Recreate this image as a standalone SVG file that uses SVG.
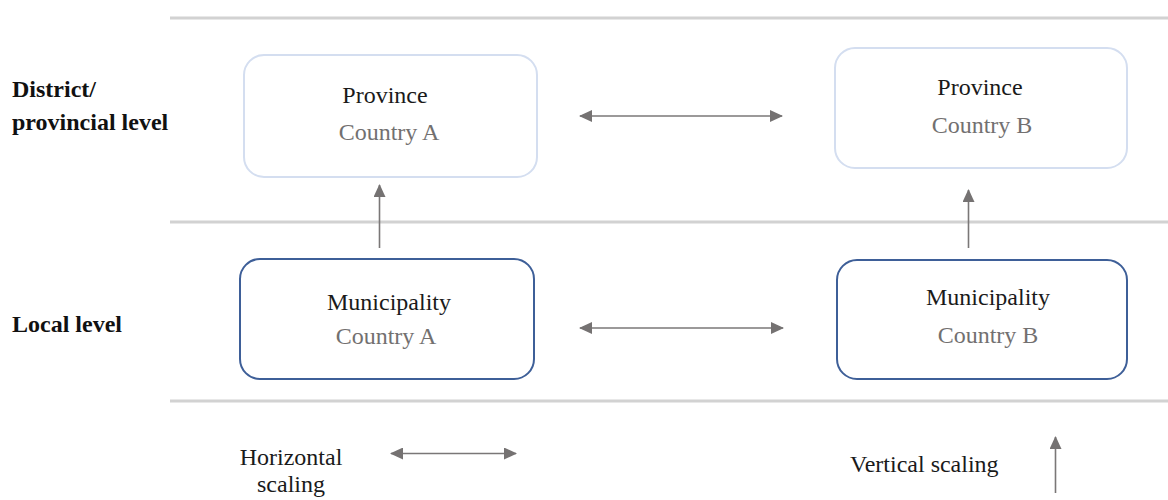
<svg xmlns="http://www.w3.org/2000/svg" width="1168" height="500" viewBox="0 0 1168 500">
  <style>
    text { font-family: 'Liberation Serif', 'DejaVu Serif', serif; font-size: 24px; }
    .band { stroke: #d2d2d2; stroke-width: 3; }
    .lvl { font-weight: bold; fill: #111; }
    .title { fill: #1a1a1a; text-anchor: middle; }
    .sub { fill: #727070; text-anchor: middle; }
    .note { fill: #1a1a1a; }
    .prov { fill: #fff; stroke: #d4def0; stroke-width: 2; }
    .muni { fill: #fff; stroke: #3e5f98; stroke-width: 2; }
    .conn { stroke: #7a7777; stroke-width: 1.6; fill: none; }
  </style>
  <defs>
    <marker id="head" viewBox="0 0 13 12" refX="12" refY="6" markerWidth="13" markerHeight="12" markerUnits="userSpaceOnUse" orient="auto-start-reverse">
      <path d="M0,0 L13,6 L0,12 Z" fill="#757272"/>
    </marker>
  </defs>

  <rect width="1168" height="500" fill="#fff"/>

  <!-- level separators -->
  <g id="bands">
    <line class="band" x1="170" y1="18" x2="1168" y2="18"/>
    <line class="band" x1="170" y1="222" x2="1168" y2="222"/>
    <line class="band" x1="170" y1="401" x2="1168" y2="401"/>
  </g>

  <!-- level labels -->
  <g id="level-labels">
    <text class="lvl" x="12" y="97">District/</text>
    <text class="lvl" x="12" y="130">provincial level</text>
    <text class="lvl" x="12" y="332">Local level</text>
  </g>

  <g id="province-a">
    <rect class="prov" x="244" y="55" width="293" height="122" rx="20"/>
    <text class="title" x="385" y="103">Province</text>
    <text class="sub" x="389" y="140">Country A</text>
  </g>

  <g id="province-b">
    <rect class="prov" x="835" y="48" width="292" height="120" rx="20"/>
    <text class="title" x="980" y="95">Province</text>
    <text class="sub" x="982" y="133">Country B</text>
  </g>

  <g id="municipality-a">
    <rect class="muni" x="240" y="259" width="294" height="120" rx="20"/>
    <text class="title" x="389" y="310">Municipality</text>
    <text class="sub" x="386" y="344">Country A</text>
  </g>

  <g id="municipality-b">
    <rect class="muni" x="837" y="260" width="290" height="119" rx="20"/>
    <text class="title" x="988" y="305">Municipality</text>
    <text class="sub" x="988" y="343">Country B</text>
  </g>

  <!-- connectors -->
  <g id="connectors">
    <line class="conn" x1="580" y1="116" x2="782" y2="116" marker-start="url(#head)" marker-end="url(#head)"/>
    <line class="conn" x1="580" y1="328" x2="783" y2="328" marker-start="url(#head)" marker-end="url(#head)"/>
    <line class="conn" x1="379.5" y1="248" x2="379.5" y2="185" marker-end="url(#head)"/>
    <line class="conn" x1="968.5" y1="248" x2="968.5" y2="190" marker-end="url(#head)"/>
  </g>

  <!-- legend -->
  <g id="legend-horizontal">
    <text class="note" x="291" y="465" text-anchor="middle">Horizontal</text>
    <text class="note" x="291" y="492" text-anchor="middle">scaling</text>
    <line class="conn" x1="391" y1="453.5" x2="516" y2="453.5" marker-start="url(#head)" marker-end="url(#head)"/>
  </g>
  <g id="legend-vertical">
    <text class="note" x="850" y="472">Vertical scaling</text>
    <line class="conn" x1="1055.5" y1="493" x2="1055.5" y2="437" marker-end="url(#head)"/>
  </g>
</svg>
